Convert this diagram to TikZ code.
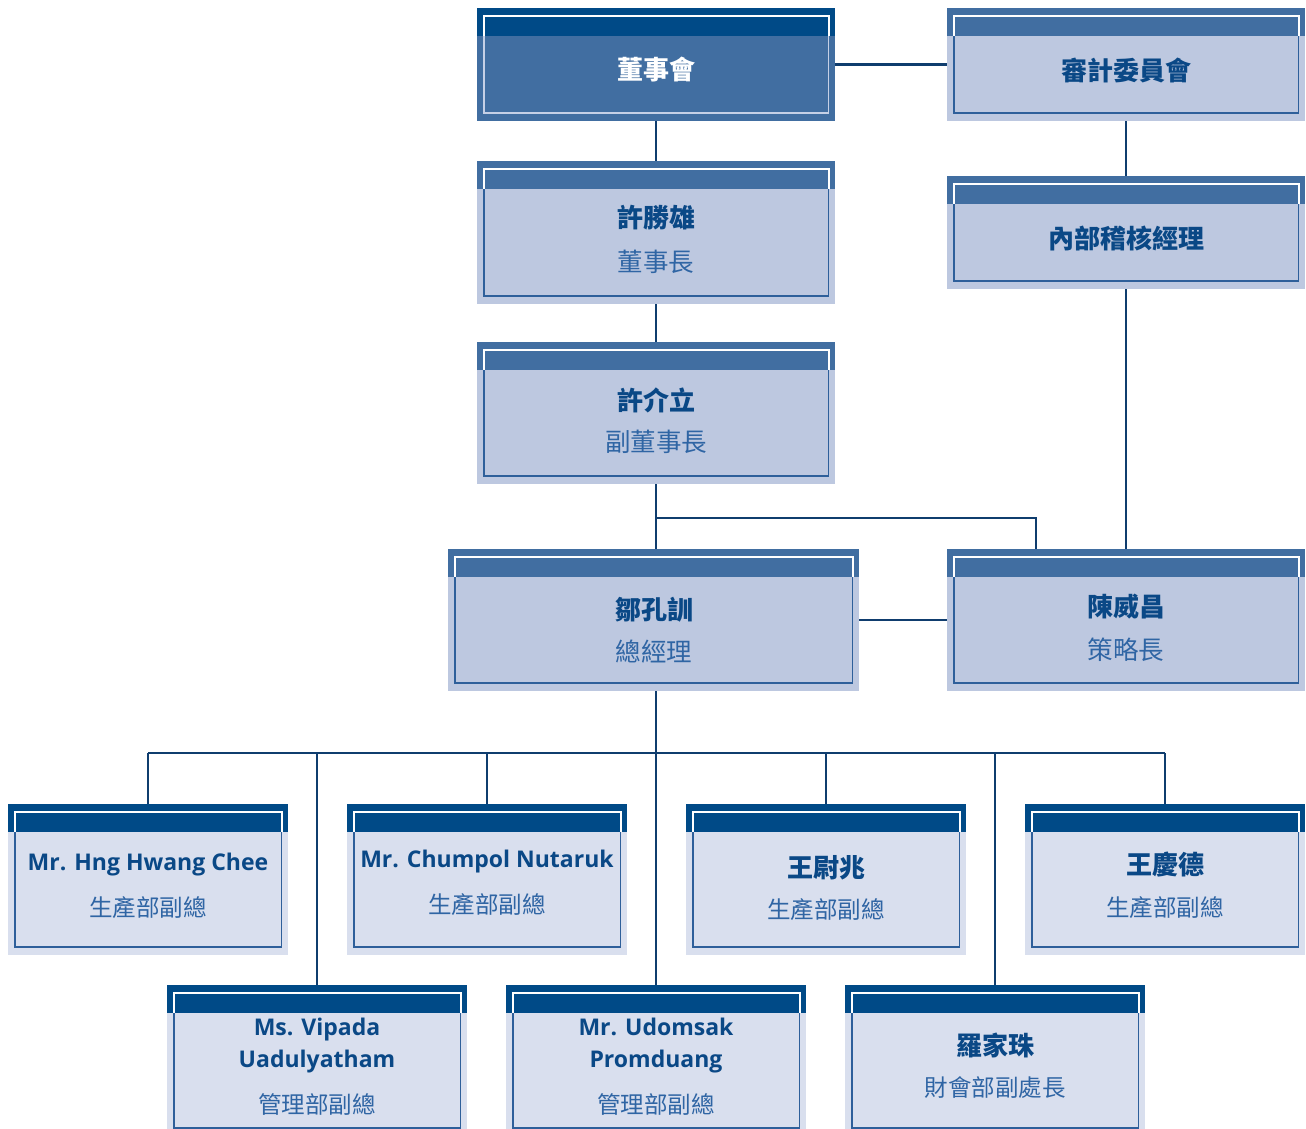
\documentclass[tikz,border=0pt]{standalone}
\usepackage{fontspec}
\setmainfont{Noto Sans CJK TC}
\newfontfamily\latinfont{Open Sans}
\usetikzlibrary{calc}
\definecolor{hdrDark}{HTML}{004A87}
\definecolor{hdrMid}{HTML}{416EA1}
\definecolor{bodyLight}{HTML}{BDC8E0}
\definecolor{bodyPale}{HTML}{D9DFEE}
\definecolor{lineBody}{HTML}{2E5F9A}
\definecolor{lineTop}{HTML}{C5D0E6}
\definecolor{connCol}{HTML}{0F3D6E}
\definecolor{nameCol}{HTML}{0A4886}
\definecolor{titleCol}{HTML}{2F65A4}
\tikzset{
  orgbox/.style n args={3}{fill=#2, inner sep=0pt, outer sep=0pt, path picture={
    \fill[#1] (path picture bounding box.north west) rectangle ([yshift=-28pt]path picture bounding box.north east);
    \draw[white, line width=2pt] ([xshift=7pt,yshift=-28pt]path picture bounding box.north west) -- ([xshift=7pt,yshift=-7.5pt]path picture bounding box.north west) -- ([xshift=-6.5pt,yshift=-7.5pt]path picture bounding box.north east) -- ([xshift=-6.5pt,yshift=-28pt]path picture bounding box.north east);
    \draw[#3, line width=1.5pt] ([xshift=7pt,yshift=-28pt]path picture bounding box.north west) -- ([xshift=7pt,yshift=8pt]path picture bounding box.south west) -- ([xshift=-6.5pt,yshift=8pt]path picture bounding box.south east) -- ([xshift=-6.5pt,yshift=-28pt]path picture bounding box.north east);
  }},
  topbox/.style={orgbox={hdrDark}{hdrMid}{lineTop}},
  midbox/.style={orgbox={hdrMid}{bodyLight}{lineBody}},
  lowbox/.style={orgbox={hdrDark}{bodyPale}{lineBody}},
  conn/.style={draw=connCol, line width=2.4pt},
  thinconn/.style={draw=connCol, line width=1.1pt},
  nametext/.style={text=nameCol, font=\fontsize{26}{30}\selectfont\bfseries, inner sep=0pt},
  latinname/.style={text=nameCol, font=\latinfont\bfseries\fontsize{23}{32}\selectfont, inner sep=0pt, align=center},
  titletext/.style={text=titleCol, font=\fontsize{25.5}{30}\selectfont, inner sep=0pt},
  lowtitle/.style={text=titleCol, font=\fontsize{23.5}{28}\selectfont, inner sep=0pt},
}
\newcommand{\orgnode}[6]{\node[#6, minimum width={(#4-#2)*1pt}, minimum height={(#5-#3)*1pt}] (#1) at ({(#2+#4)/2},{(#3+#5)/2}) {};}
\begin{document}
\begin{tikzpicture}[x=1pt,y=-1pt]
\useasboundingbox (0,0) rectangle (1306,1128);
\clip (0,0) rectangle (1306,1128);
% boxes
\orgnode{dsh}{477}{8}{835}{121}{topbox}
\orgnode{sj}{947}{8}{1305}{121}{midbox}
\orgnode{hsx}{477}{161}{835}{304}{midbox}
\orgnode{nb}{947}{176}{1305}{289}{midbox}
\orgnode{xjl}{477}{342}{835}{484}{midbox}
\orgnode{zkx}{448}{549}{859}{691}{midbox}
\orgnode{cwc}{947}{549}{1305}{691}{midbox}
\orgnode{ra}{8}{804}{288}{955}{lowbox}
\orgnode{rb}{347}{804}{627}{955}{lowbox}
\orgnode{rc}{686}{804}{966}{955}{lowbox}
\orgnode{rd}{1025}{804}{1305}{955}{lowbox}
\orgnode{sa}{167}{985}{467}{1136}{lowbox}
\orgnode{sb}{506}{985}{806}{1136}{lowbox}
\orgnode{sc}{845}{985}{1145}{1136}{lowbox}
% connectors
\draw[conn] (dsh.south) -- (hsx.north);
\draw[conn] (hsx.south) -- (xjl.north);
\draw[conn] (dsh.east) -- (sj.west);
\draw[conn] (sj.south) -- (nb.north);
\draw[conn] (nb.south) -- (cwc.north);
\draw[conn] (xjl.south) -- (xjl.south |- zkx.north);
\coordinate (split) at ([yshift=-34pt]xjl.south);
\draw[conn] (split) -| ([xshift=-90pt]cwc.north);
\draw[conn] (zkx.east) -- (cwc.west);
\coordinate (trunk) at (zkx.south -| xjl.south);
\coordinate (bus) at ([yshift=-62pt]trunk);
\draw[conn] (trunk) -- (bus);
\draw[thinconn] (bus -| ra.north) -- (bus -| rd.north);
\draw[thinconn] (bus -| ra.north) -- (ra.north);
\draw[thinconn] (bus -| rb.north) -- (rb.north);
\draw[thinconn] (bus -| rc.north) -- (rc.north);
\draw[thinconn] (bus -| rd.north) -- (rd.north);
\draw[thinconn] (bus -| sa.north) -- (sa.north);
\draw[thinconn] (bus) -- (sb.north);
\draw[thinconn] (bus -| sc.north) -- (sc.north);
% texts
\node[nametext, text=white] (t-dsh) at (656,70) {董事會};
\node[nametext] (t-sj) at (1126,70) {審計委員會};
\node[nametext] (t-hsx) at (656,218) {許勝雄};
\node[titletext] (s-hsx) at (656,262) {董事長};
\node[nametext] (t-nb) at (1126,238) {內部稽核經理};
\node[nametext] (t-xjl) at (656,400) {許介立};
\node[titletext] (s-xjl) at (656,442) {副董事長};
\node[nametext] (t-zkx) at (654,610) {鄒孔訓};
\node[titletext] (s-zkx) at (654,652) {總經理};
\node[nametext] (t-cwc) at (1126,607) {陳威昌};
\node[titletext] (s-cwc) at (1126,650) {策略長};
\node[latinname] (t-ra) at (148,865) {Mr. Hng Hwang Chee};
\node[lowtitle] (s-ra) at (148,908) {生產部副總};
\node[latinname] (t-rb) at (487,862) {Mr. Chumpol Nutaruk};
\node[lowtitle] (s-rb) at (487,905) {生產部副總};
\node[nametext] (t-rc) at (826,868) {王尉兆};
\node[lowtitle] (s-rc) at (826,910) {生產部副總};
\node[nametext] (t-rd) at (1165,865) {王慶德};
\node[lowtitle] (s-rd) at (1165,908) {生產部副總};
\node[latinname] (t-sa) at (317,1046) {Ms. Vipada\\Uadulyatham};
\node[lowtitle] (s-sa) at (317,1104) {管理部副總};
\node[latinname] (t-sb) at (656,1046) {Mr. Udomsak\\Promduang};
\node[lowtitle] (s-sb) at (656,1104) {管理部副總};
\node[nametext] (t-sc) at (995,1045) {羅家珠};
\node[lowtitle] (s-sc) at (995,1088) {財會部副處長};
\end{tikzpicture}
\end{document}
